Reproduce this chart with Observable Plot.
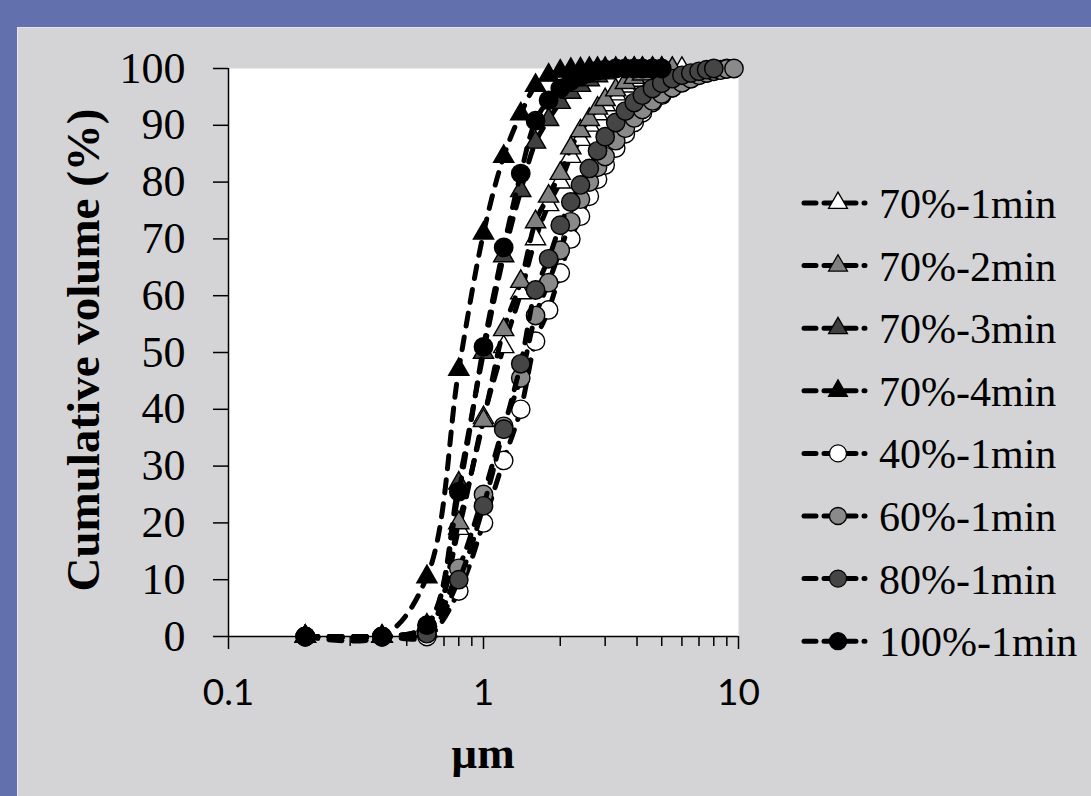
<!DOCTYPE html>
<html><head><meta charset="utf-8">
<script src="https://cdn.jsdelivr.net/npm/d3@7"></script>
<script src="https://cdn.jsdelivr.net/npm/@observablehq/plot@0.6"></script>
<style>
html,body{margin:0;padding:0;background:#6271ae;width:1091px;height:796px;overflow:hidden}
#panel{position:absolute;left:17px;top:27px;width:1074px;height:769px;background:#d4d4d6;border-top:1px solid #e6e6ea;border-left:1px solid #e6e6ea;box-sizing:border-box}
#chart{position:absolute;left:0;top:0}
</style></head><body><div id="panel"><div id="chart"></div></div>
<script>
// particle size classes (µm)
const sizes = [0.2,0.4,0.6,0.8,1.0,1.2,1.4,1.6,1.8,2.0,2.2,2.4,2.6,2.8,3.0,3.3,3.6,3.9,4.2,4.6,5.0,5.5,6.0,6.5,7.0,7.5,8.0,8.5,9.0,9.6];
const seriesNames = ["70%-1min","70%-2min","70%-3min","70%-4min","40%-1min","60%-1min","80%-1min","100%-1min"];
// cumulative volume (%) per series, aligned with sizes
const v70_1 = [0,0,1,19,38.5,51,60.5,70,76,80,84.5,87.5,90,92,93.6,95.5,96.9,97.9,98.6,99.2,99.6,99.9,100];
const v70_2 = [0,0,1,20,38,54,62.5,73,77.5,81.5,86,89,91,93,94.5,96.2,97.5,98.4,99,99.5,99.8,100];
const v70_3 = [0,0,2,27,50,67,78.5,87,91,94,95.8,97,98,98.7,99.2,99.6,99.8,100,100,100,100];
const v70_4 = [0,0,10.5,47,71,84.5,92,97,98.8,99.5,99.8,99.9,100,100,100,100,100,100,100,100,100];
const v40_1 = [0,0,0,8,20,31,40,52,57.5,64,70,74,77.5,80.5,83,86,88.5,90.5,92.2,94,95.3,96.6,97.5,98.2,98.8,99.2,99.5,99.8,100];
const v60_1 = [0,0,1,12,25,37,45.5,56.5,62.3,68,73,77,80,82.6,84.5,87.3,89.5,91.3,92.8,94.3,95.5,96.6,97.5,98.2,98.8,99.2,99.5,99.7,99.9,100];
const v80_1 = [0,0,0.5,10,23,36.5,48,61,66.5,72.4,76.5,79.5,82.4,85.5,88,90.5,92.5,94,95.3,96.5,97.4,98.2,98.8,99.2,99.5,99.8,100];
const v100_1 = [0,0,2,25.5,51,68.5,81.5,90.8,94.4,96.5,97.8,98.6,99.2,99.6,99.8,100,100,100,100,100,100];
const seriesValues = [v70_1,v70_2,v70_3,v70_4,v40_1,v60_1,v80_1,v100_1];
const fills = ["#ffffff","#808080","#404040","#000000","#ffffff","#8a8a8a","#454545","#000000"];
const symbols = ["triangle","triangle","triangle","triangle","circle","circle","circle","circle"];
const yTicks = [0,10,20,30,40,50,60,70,80,90,100];
const xTicks = [0.1,1,10];
const xMinorTicks = [0.2,0.3,0.4,0.5,0.6,0.7,0.8,0.9,2,3,4,5,6,7,8,9];
const yLabel = "Cumulative volume (%)";
const xLabel = "µm";

const markR = {triangle: 7.5, circle: 9.2};
const legendR = {triangle: 7, circle: 8.5};
const serif = "'Liberation Serif','Times New Roman',serif";
const dash = "13,11";

const rows = [];
seriesNames.forEach((name, i) => {
  seriesValues[i].forEach((v, j) => rows.push({series: name, size: sizes[j], value: v}));
});

const seriesMarks = [];
seriesNames.forEach((name, i) => {
  const d = rows.filter(r => r.series === name);
  seriesMarks.push(Plot.line(d, {x: "size", y: "value", stroke: "black", strokeWidth: 5,
    strokeDasharray: dash, strokeLinecap: "round", curve: "catmull-rom"}));
  seriesMarks.push(Plot.dot(d, {x: "size", y: "value", symbol: symbols[i], r: markR[symbols[i]],
    fill: fills[i], stroke: "black", strokeWidth: 1.4}));
});

const plot = Plot.plot({
  width: 1073, height: 768,
  marginLeft: 210, marginRight: 353, marginTop: 40, marginBottom: 160,
  style: {background: "transparent", overflow: "visible", color: "black"},
  x: {type: "log", domain: [0.1, 10]},
  y: {domain: [0, 100]},
  marks: [
    Plot.frame({fill: "white", stroke: null}),
    Plot.axisX({ticks: xMinorTicks, tickSize: 10, tickFormat: () => "", strokeWidth: 1.5, label: null}),
    Plot.axisX({ticks: xTicks, tickSize: 13, tickPadding: 29, tickFormat: d => String(d),
      fontSize: 37, fontFamily: "Lato, 'Open Sans', sans-serif", strokeWidth: 1.5, label: null}),
    Plot.axisY({ticks: yTicks, tickSize: 15, tickPadding: 28, fontSize: 44, fontFamily: serif,
      strokeWidth: 1.5, label: null}),
    Plot.ruleY([0], {stroke: "black", strokeWidth: 1.5}),
    Plot.ruleX([0.1], {stroke: "black", strokeWidth: 1.5}),
    ...seriesMarks
  ]
});
document.getElementById("chart").appendChild(plot);

const svg = d3.select(plot);
svg.append("text").attr("transform", "translate(81,322) rotate(-90)")
  .attr("text-anchor", "middle").attr("font-family", serif).attr("font-weight", "bold")
  .attr("font-size", 47).attr("fill", "black").text(yLabel);
svg.append("text").attr("x", 465).attr("y", 740)
  .attr("text-anchor", "middle").attr("font-family", serif).attr("font-weight", "bold")
  .attr("font-size", 45).attr("fill", "black").text(xLabel);

const lg = svg.append("g").attr("text-anchor", "start");
seriesNames.forEach((name, i) => {
  const cy = 175 + i * 62.6;
  const g = lg.append("g");
  g.append("line").attr("x1", 786).attr("x2", 847).attr("y1", cy).attr("y2", cy)
    .attr("stroke", "black").attr("stroke-width", 5).attr("stroke-dasharray", "12,8")
    .attr("stroke-linecap", "round");
  const r = legendR[symbols[i]];
  const type = symbols[i] === "triangle" ? d3.symbolTriangle : d3.symbolCircle;
  g.append("path").attr("transform", `translate(820,${cy})`)
    .attr("d", d3.symbol(type, Math.PI * r * r)())
    .attr("fill", fills[i]).attr("stroke", "black").attr("stroke-width", 1.3);
  g.append("text").attr("x", 861).attr("y", cy + 15).attr("text-anchor", "start")
    .attr("font-family", serif).attr("font-size", 42).attr("fill", "black").text(name);
});
</script>
</body></html>
